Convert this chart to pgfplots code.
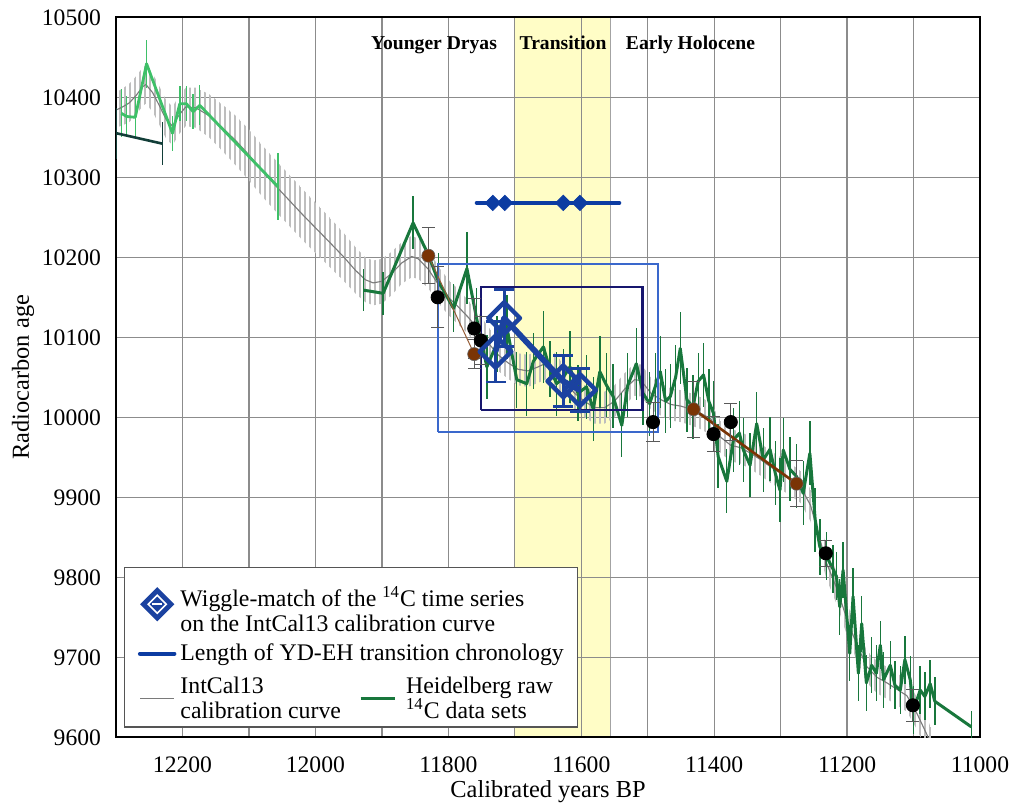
\documentclass[border=0pt]{standalone}
\usepackage{fontspec}
\setmainfont{Liberation Serif}
\usepackage{pgfplots}
\pgfplotsset{compat=1.18}
\usepackage{pgfplotstable}
\usepgfplotslibrary{fillbetween}
\usetikzlibrary{patterns.meta}

\definecolor{gridc}{HTML}{8C8C8C}
\definecolor{yel}{HTML}{FFFDC6}
\definecolor{icl}{HTML}{7A7A7A}
\definecolor{hatch}{HTML}{BEBEBE}
\definecolor{lgreen}{HTML}{3EC068}
\definecolor{hgreen}{HTML}{18773C}
\definecolor{teal2}{HTML}{123E38}
\definecolor{brownc}{HTML}{7A3405}
\definecolor{wblue}{HTML}{1B42A0}
\definecolor{hblue}{HTML}{0C3CA2}
\definecolor{rblue}{HTML}{3A68CC}
\definecolor{navy}{HTML}{17166E}
\definecolor{legc}{HTML}{555555}

\pgfplotstableread{
x y s
12320 10382 22
12300 10384 22
12290 10388 23
12280 10393 24
12270 10402 24
12260 10413 24
12255 10416 24
12245 10406 24
12235 10390 24
12225 10373 24
12215 10364 24
12205 10378 24
12195 10388 24
12180 10387 25
12160 10377 27
12140 10362 29
12120 10346 31
12100 10328 32
12080 10308 32
12056 10286 32
12020 10254 32
11980 10220 31
11958 10201 30
11940 10184 29
11925 10172 28
11913 10168 28
11900 10170 28
11885 10180 27
11870 10193 26
11855 10201 26
11845 10198 25
11830 10185 24
11815 10166 23
11800 10150 22
11785 10138 22
11770 10125 21
11755 10110 21
11740 10093 20
11725 10078 20
11710 10068 20
11695 10060 20
11680 10058 20
11665 10063 20
11652 10068 20
11640 10060 20
11625 10045 20
11610 10030 20
11595 10020 20
11580 10012 20
11565 10012 20
11550 10020 20
11535 10035 20
11520 10047 20
11510 10046 20
11495 10030 20
11480 10022 20
11465 10016 20
11450 10014 20
11435 10010 20
11420 10005 20
11405 9998 20
11390 9975 20
11375 9965 20
11360 9962 20
11345 9955 20
11330 9947 20
11315 9938 20
11300 9930 20
11285 9922 20
11270 9913 20
11255 9890 20
11240 9845 20
11231 9818 20
11215 9785 20
11200 9747 20
11185 9715 20
11170 9688 20
11155 9675 20
11140 9668 20
11125 9660 20
11110 9652 20
11095 9630 20
11078 9600 20
11070 9585 20
}\intcal

\pgfplotstableread{
x y e
12292 10380 30
12284 10376 25
12271 10375 25
12254 10442 30
12215 10355 22
12204 10392 22
12194 10392 22
12184 10382 22
12174 10390 25
12056 10288 42
}\lgreen

\pgfplotstableread{
x y e
12299 10355 32
12230 10342 27
}\teal

\pgfplotstableread{
x y e
11928 10159 26
11898 10155 27
11853 10243 33
11830 10203 30
11815 10170 35
11792 10136 30
11772 10186 45
11758 10126 35
11742 10063 40
11727 10092 35
11712 10113 40
11697 10047 35
11682 10042 40
11672 10070 35
11657 10088 45
11647 10060 35
11637 10042 40
11627 10050 35
11617 10063 45
11605 10030 35
11592 10038 40
11582 10010 40
11572 10057 45
11562 10040 40
11552 10026 40
11539 9990 40
11530 10040 40
11517 10067 45
11507 10030 40
11497 10017 40
11488 10040 40
11481 10057 45
11473 10020 40
11466 10026 40
11458 10050 40
11451 10086 45
11441 10022 40
11432 10013 40
11424 10045 35
11416 10053 40
11408 10020 40
11401 10005 40
11394 9951 40
11381 9920 40
11371 9972 40
11362 9980 40
11356 9959 40
11346 9940 40
11336 9992 40
11326 9947 40
11316 9960 40
11308 9930 40
11301 9909 40
11296 9959 40
11286 9935 40
11276 9926 40
11266 9905 40
11256 9955 40
11248 9872 40
11241 9838 35
11231 9826 30
11221 9810 30
11216 9801 30
11211 9763 35
11206 9809 35
11196 9705 35
11191 9776 35
11183 9680 35
11178 9742 35
11171 9668 35
11163 9690 35
11156 9680 35
11150 9715 30
11145 9672 35
11135 9690 30
11128 9665 30
11120 9659 30
11113 9697 30
11105 9672 30
11100 9634 30
11090 9659 30
11083 9651 30
11075 9667 30
11068 9645 30
11013 9613 20
}\heid

\pgfplotstableread{
x y e
11830 10202 35
11761 10079 18
}\brownA

\pgfplotstableread{
x y e
11431 10010 35
11276 9917 29
}\brownB

\pgfplotstableread{
x y e
11816 10150 38
11761 10111 38
11751 10096 30
11492 9994 24
11401 9979 22
11375 9994 23
11232 9830 16
11101 9640 20
}\blackpts

\pgfplotstableread{
x y e
11729 10082 38
11716 10124 36
11627 10045 32
11602 10034 27
}\wiggle

\begin{document}
\begin{tikzpicture}
\begin{axis}[
  set layers,
  scale only axis, width=432pt, height=360pt,
  x dir=reverse,
  xmin=11000, xmax=12300, ymin=9600, ymax=10500,
  scaled ticks=false,
  xtick={11000,11200,...,12200},
  minor xtick={11100,11300,...,12300},
  ytick={9600,9700,...,10500},
  grid=both,
  major grid style={draw=gridc, line width=0.65pt},
  minor grid style={draw=gridc, line width=0.65pt},
  major tick length=0pt, minor tick length=0pt,
  axis line style={black, line width=1.1pt},
  /pgf/number format/assume math mode=true,
  /pgf/number format/1000 sep={},
  /pgf/number format/fixed,
  xticklabel={\pgfmathprintnumber[assume math mode=true,1000 sep={},fixed]{\tick}},
  yticklabel={\pgfmathprintnumber[assume math mode=true,1000 sep={},fixed]{\tick}},
  tick label style={font=\rmfamily\fontsize{11.8}{13}\selectfont},
  xticklabel style={yshift=-6pt},
  yticklabel style={xshift=-4pt},
  xlabel={Calibrated years BP}, ylabel={Radiocarbon age},
  label style={font=\rmfamily\fontsize{12.2}{14}\selectfont},
  xlabel style={at={(axis description cs:0.5,-0.075)}, anchor=center},
  ylabel style={at={(axis description cs:-0.1076,0.5)}, anchor=center},
  legend columns=2,
  legend cell align=left,
  legend style={at={(0.0096,0.2365)}, anchor=north west, draw=legc,
    line width=0.6pt, fill=white, font=\fontsize{11.9}{12.5}\selectfont,
    inner xsep=6.5pt, inner ysep=1pt, row sep=2.5pt,
    cells={align=left},
    /tikz/column 2/.style={column sep=7pt},
    /tikz/column 3/.style={column sep=3pt}},
]
% yellow transition band
\addplot[fill=yel, draw=gridc!80, line width=0.5pt, on layer=axis background, forget plot]
  coordinates {(11700,9600) (11700,10500) (11556,10500) (11556,9600)} --cycle;

% IntCal13 band and curve
\addplot[draw=none, name path=icu, forget plot] table[x=x, y expr=\thisrow{y}+\thisrow{s}] {\intcal};
\addplot[draw=none, name path=icl, forget plot] table[x=x, y expr=\thisrow{y}-\thisrow{s}] {\intcal};
\addplot[pattern={Lines[angle=90,distance=2.5pt,line width=0.6pt]}, pattern color=hatch, draw=none, forget plot] fill between[of=icu and icl];
\addplot[icl, line width=0.55pt, forget plot] table[x=x,y=y] {\intcal};

% light green series
\addplot[lgreen, line width=1.4pt, line join=round, forget plot,
  error bars/.cd, y dir=both, y explicit, error mark=none,
  error bar style={line width=0.7pt, lgreen}]
  table[x=x,y=y,y error=e] {\lgreen};

% teal short series
\addplot[teal2, line width=1.3pt, forget plot,
  error bars/.cd, y dir=both, y explicit, error mark=none,
  error bar style={line width=0.8pt, teal2}]
  table[x=x,y=y,y error=e] {\teal};

% Heidelberg series
\addplot[hgreen, line width=1.5pt, line join=round, forget plot,
  error bars/.cd, y dir=both, y explicit, error mark=none,
  error bar style={line width=0.7pt, hgreen}]
  table[x=x,y=y,y error=e] {\heid};

% rectangles
\addplot[rblue, line width=1pt, forget plot] coordinates {(11816,9982) (11816,10191) (11485,10191) (11485,9982) (11816,9982)};
\addplot[navy, line width=1.3pt, forget plot] coordinates {(11751,10009) (11751,10163) (11508,10163) (11508,10009) (11751,10009)};

% brown series
\addplot[brownc!80, line width=0.5pt, mark=*, mark size=3.3pt,
  mark options={fill=brownc, draw=black!60, line width=0.3pt}, forget plot,
  error bars/.cd, y dir=both, y explicit,
  error bar style={line width=0.5pt, black!65},
  error mark options={rotate=90, mark size=3.3pt, line width=0.5pt, black!65}]
  table[x=x,y=y,y error=e] {\brownA};
\addplot[brownc, line width=1.3pt, mark=*, mark size=3.3pt,
  mark options={fill=brownc, draw=black!60, line width=0.3pt}, forget plot,
  error bars/.cd, y dir=both, y explicit,
  error bar style={line width=0.5pt, black!65},
  error mark options={rotate=90, mark size=3.3pt, line width=0.5pt, black!65}]
  table[x=x,y=y,y error=e] {\brownB};

% black points
\addplot[only marks, mark=*, mark size=3.3pt, mark options={fill=black, draw=black}, forget plot,
  error bars/.cd, y dir=both, y explicit,
  error bar style={line width=0.5pt, black!65},
  error mark options={rotate=90, mark size=3.3pt, line width=0.5pt, black!65}]
  table[x=x,y=y,y error=e] {\blackpts};

% wiggle-match diamonds
\addplot[wblue, line width=2.9pt, line join=round, mark=square, mark size=5.6pt,
  mark options={rotate=45, line width=2.2pt, fill=white, fill opacity=0.25}, forget plot,
  error bars/.cd, y dir=both, y explicit,
  error bar style={line width=1.4pt, wblue},
  error mark options={rotate=90, mark size=5pt, line width=1.4pt, wblue}]
  table[x=x,y=y,y error=e] {\wiggle};

% transition chronology length
\addplot[hblue, line width=2.2pt, line cap=round, forget plot] coordinates {(11757,10268) (11543,10268)};
\addplot[only marks, mark=square*, mark size=2.7pt, mark options={rotate=45, fill=hblue, draw=hblue}, forget plot]
  coordinates {(11733,10268) (11715,10268) (11627,10268) (11602,10268)};

% period labels
\node[font=\bfseries\fontsize{9.8}{12}\selectfont, anchor=base] at (axis cs:11821.5,10460) {Younger Dryas};
\node[font=\bfseries\fontsize{9.8}{12}\selectfont, anchor=base] at (axis cs:11627.4,10460) {Transition};
\node[font=\bfseries\fontsize{9.8}{12}\selectfont, anchor=base] at (axis cs:11435.6,10460) {Early Holocene};

% legend
\addlegendimage{legend image code/.code={
  \path (0.3cm,17pt) (0.3cm,-15pt);
  \draw[wblue, fill=wblue, line width=0.8pt] (0.3cm,-8pt)--(0.3cm+8pt,0pt)--(0.3cm,8pt)--(0.3cm-8pt,0pt)--cycle;
  \draw[white, line width=0.8pt] (0.3cm,-4.5pt)--(0.3cm+4.5pt,0pt)--(0.3cm,4.5pt)--(0.3cm-4.5pt,0pt)--cycle;
  \draw[white, line width=0.8pt] (0.3cm-2.5pt,0pt)--(0.3cm+2.5pt,0pt);}}
\addlegendentry{\rlap{\begin{tabular}{@{}l@{}}Wiggle-match of the \textsuperscript{14}C time series\\on the IntCal13 calibration curve\end{tabular}}}
\addlegendimage{empty legend}
\addlegendentry{}
\addlegendimage{hblue, line width=2.2pt, line cap=round}
\addlegendentry{\rlap{Length of YD-EH transition chronology}}
\addlegendimage{empty legend}
\addlegendentry{}
\addlegendimage{icl, line width=0.55pt}
\addlegendentry{IntCal13\\calibration curve}
\addlegendimage{hgreen, line width=1.5pt}
\addlegendentry{\makebox[77pt][l]{Heidelberg raw}\\\textsuperscript{14}C data sets}
\end{axis}
\pgfresetboundingbox
\path ([shift={(-58pt,-34.5pt)}]current axis.south west) rectangle ([shift={(15pt,8.65pt)}]current axis.north east);
\end{tikzpicture}
\end{document}
